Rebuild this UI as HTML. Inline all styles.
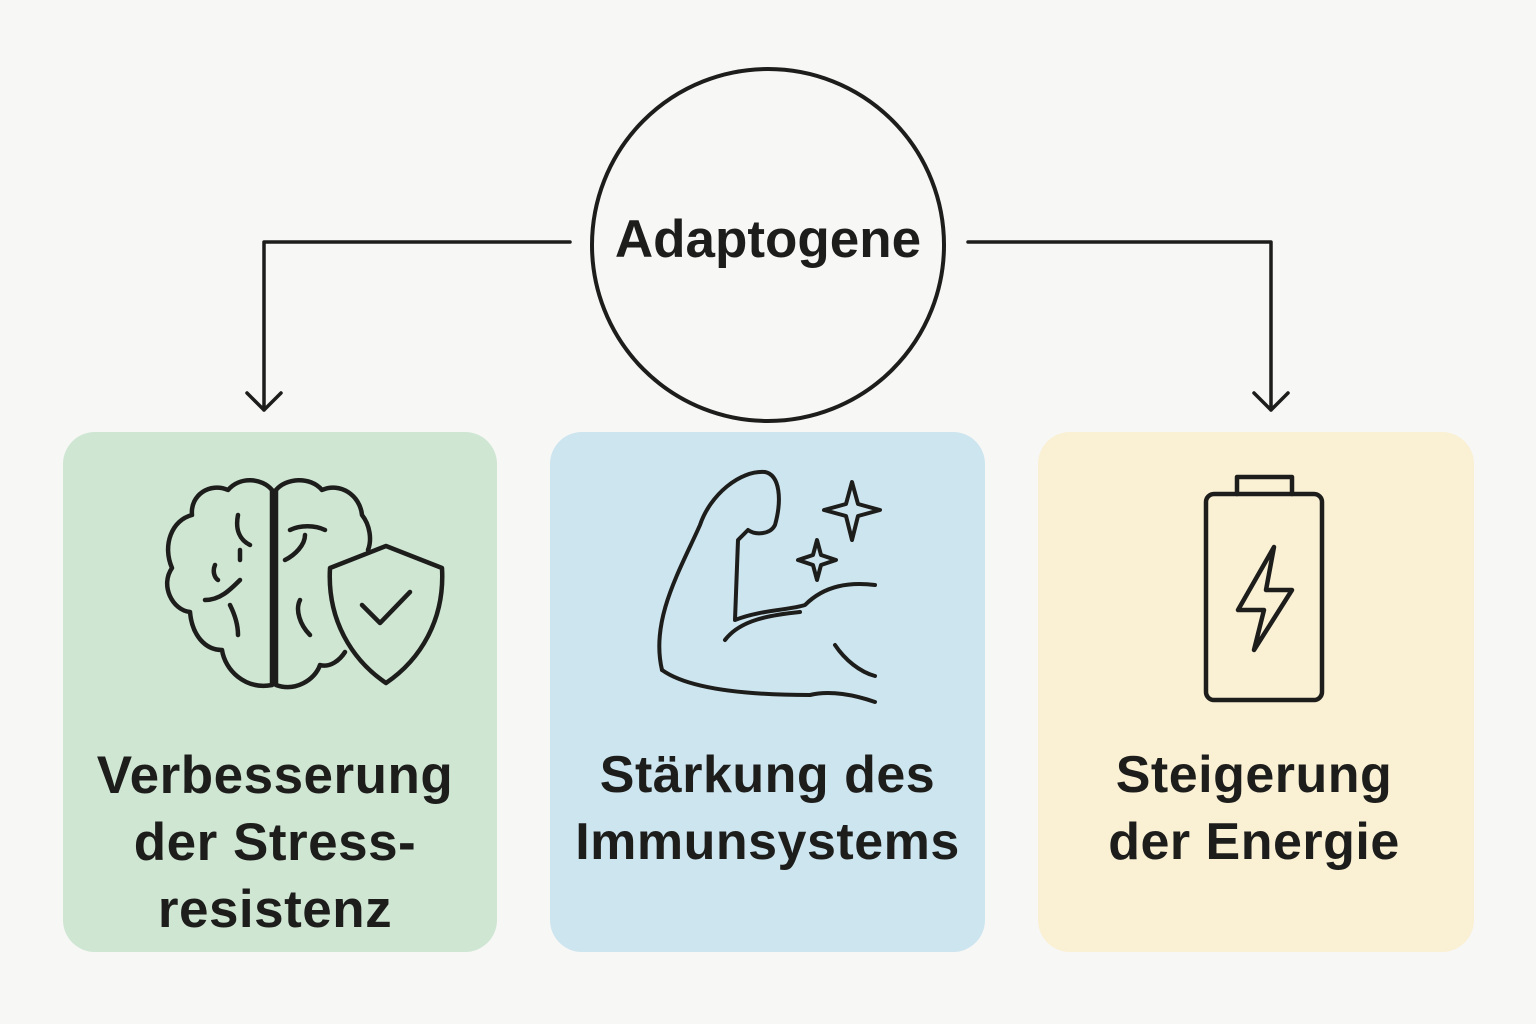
<!DOCTYPE html>
<html><head><meta charset="utf-8"><style>
html,body{margin:0;padding:0;background:#f7f7f6;}
body{width:1536px;height:1024px;position:relative;overflow:hidden;font-family:"Liberation Sans","DejaVu Sans",sans-serif;}
.box{position:absolute;top:432px;height:520px;border-radius:32px;}
.t{position:absolute;left:0;right:0;text-align:center;font-size:52px;font-weight:bold;color:#1d1d1b;line-height:67px;letter-spacing:0.5px;}
</style></head><body>
<div class="box" style="left:63px;width:434px;background:#cfe6d3"></div>
<div class="box" style="left:550px;width:435px;background:#cde5ef"></div>
<div class="box" style="left:1038px;width:436px;background:#faf0d4"></div>
<svg width="1536" height="1024" style="position:absolute;left:0;top:0" fill="none" stroke="#1d1d1b" stroke-linecap="round" stroke-linejoin="round">
<circle cx="768" cy="245" r="176" stroke-width="4"/>
<path d="M570 242H264V410M247 393L264 410L281 393" stroke-width="3.5"/>
<path d="M968 242H1271V410M1254 393L1271 410L1288 393" stroke-width="3.5"/>
<g stroke-width="4.5">
<path d="M272 490C262 478 240 476 228 490C210 482 190 495 192 515C172 520 162 545 172 568C160 585 172 610 190 612C192 635 205 650 222 650C225 670 245 690 272 685Z"/>
<path d="M276 490C286 478 310 476 322 490C340 482 360 495 362 515C370 525 372 540 368 550M276 490V685C295 692 315 680 320 665C330 668 340 660 345 652"/>
<path d="M238 515C235 530 240 540 250 545M240 550V560M205 600C220 600 230 590 240 580M230 605C235 615 238 625 238 635M290 530C300 525 315 525 325 530M285 560C295 555 305 545 305 535M300 600C295 610 300 625 310 635M215 565C212 572 215 578 218 580"/>
<path d="M330 568L386 546L442 568C445 620 420 660 386 683C352 660 327 620 330 568Z"/>
<path d="M362 605L380 623L410 592"/>
</g>
<g stroke-width="4">
<path d="M662 670C650 620 680 570 700 525C710 495 740 470 765 472C780 475 782 500 775 525C770 535 755 535 748 530L738 540L735 620C760 610 790 610 805 605C825 585 850 582 875 585"/>
<path d="M662 670C690 690 750 695 810 695C830 690 855 695 875 702M725 640C740 620 770 615 800 612M835 645C845 660 860 672 875 676"/>
<path d="M852 482L858 504L880 510L858 516L852 540L846 516L824 510L846 504Z"/>
<path d="M817 540L821 555L836 560L821 565L817 580L813 565L798 560L813 555Z"/>
</g>
<g stroke-width="4.5">
<rect x="1206" y="494" width="116" height="206" rx="8"/>
<path d="M1237 494V477H1292V494"/>
<path d="M1274 547L1238 610H1264L1254 650L1292 590H1266Z"/>
</g>
</svg>
<div style="position:absolute;left:592px;width:352px;top:209px;text-align:center;font-size:53px;font-weight:bold;color:#1d1d1b;">Adaptogene</div>
<div style="position:absolute;left:58px;width:434px;top:0;height:1024px"><div class="t" style="top:742px;font-size:53px">Verbesserung<br>der Stress-<br>resistenz</div></div>
<div style="position:absolute;left:550px;width:435px;top:0;height:1024px"><div class="t" style="top:742px">Stärkung des<br>Immunsystems</div></div>
<div style="position:absolute;left:1036px;width:436px;top:0;height:1024px"><div class="t" style="top:742px">Steigerung<br>der Energie</div></div>
</body></html>
